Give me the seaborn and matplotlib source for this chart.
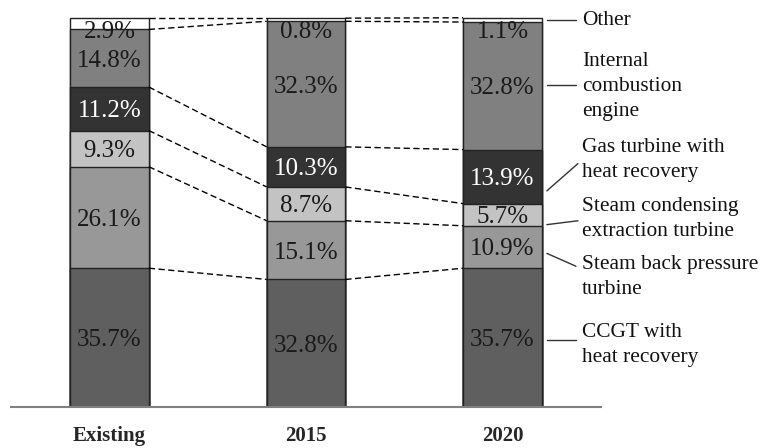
import numpy as np
import pandas as pd
import seaborn as sns
import matplotlib.pyplot as plt

# data (percent share per technology, bottom -> top)
years = ['Existing', '2015', '2020']
technologies = ['CCGT with\nheat recovery', 'Steam back pressure\nturbine',
                'Steam condensing\nextraction turbine', 'Gas turbine with\nheat recovery',
                'Internal\ncombustion\nengine', 'Other']
ccgt = [35.7, 32.8, 35.7]
steam_back = [26.1, 15.1, 10.9]
steam_cond = [9.3, 8.7, 5.7]
gas_turbine = [11.2, 10.3, 13.9]
ice = [14.8, 32.3, 32.8]
other = [2.9, 0.8, 1.1]

colors = ['#5f5f5f', '#989898', '#c3c3c3', '#333333', '#808080', '#ffffff']
text_colors = ['#1a1a1a', '#1a1a1a', '#1a1a1a', '#ffffff', '#1a1a1a', '#1a1a1a']

# right-hand label layout: (text x, text y, leader x0, y0, x1, y1) in data units
label_layout = [
    (2.405, 16.0, 2.226, 17.2, 2.374, 17.2),
    (2.405, 33.5, 2.226, 39.5, 2.374, 36.2),
    (2.405, 48.3, 2.226, 46.9, 2.384, 47.9),
    (2.405, 63.5, 2.226, 55.6, 2.384, 62.6),
    (2.405, 82.4, 2.226, 82.7, 2.374, 82.7),
    (2.405, 99.4, 2.226, 99.4, 2.374, 99.4),
]

sns.set_style('white')
plt.rcParams['font.family'] = ['Liberation Serif', 'DejaVu Serif']

df = pd.DataFrame({'year': years, 'ccgt': ccgt, 'steam_back': steam_back,
                   'steam_cond': steam_cond, 'gas_turbine': gas_turbine,
                   'ice': ice, 'other': other})
series = ['ccgt', 'steam_back', 'steam_cond', 'gas_turbine', 'ice', 'other']
cum = df[series].cumsum(axis=1)

fig = plt.figure(figsize=(7.64, 4.48), dpi=100)
ax = fig.add_axes([11.25 / 764, 41 / 448, 589.5 / 764, 390 / 448])

bar_w = 0.4
# stacked bars: draw cumulative totals from the top down so each overlays the next
for i in reversed(range(len(series))):
    sns.barplot(x=df['year'], y=cum[series[i]], color=colors[i], width=bar_w,
                saturation=1, edgecolor='#222222', linewidth=1, ax=ax)

# percent labels
for i, s in enumerate(series):
    for j in range(len(years)):
        v = df[s][j]
        mid = cum[s][j] - v / 2
        if s == 'other':
            mid = 97.0
        ax.text(j, mid, f'{v:.1f}%', ha='center', va='center_baseline',
                fontsize=18, color=text_colors[i])

# dashed connectors between neighbouring bars
for s in series:
    for j in range(len(years) - 1):
        ax.plot([j + bar_w / 2, j + 1 - bar_w / 2], [cum[s][j], cum[s][j + 1]],
                color='black', lw=1, dashes=(4.5, 2.5))

# category legend on the right
for name, (tx, ty, x0, y0, x1, y1) in zip(technologies, label_layout):
    ax.plot([x0, x1], [y0, y1], color='#333333', lw=1, clip_on=False)
    ax.text(tx, ty, name, ha='left', va='center', fontsize=15.4,
            linespacing=1.45, color='#111111', clip_on=False)

ax.set_xlim(-0.5, 2.5)
ax.set_ylim(0, 100.3)
ax.set_xlabel('')
ax.set_ylabel('')
ax.set_yticks([])
sns.despine(ax=ax, left=True)
ax.spines['bottom'].set_color('#808080')
ax.spines['bottom'].set_linewidth(1.5)
ax.tick_params(axis='x', length=0, pad=14)
for lbl in ax.get_xticklabels():
    lbl.set_fontweight('bold')
    lbl.set_fontsize(15)

fig.savefig('out.png', dpi=100)
